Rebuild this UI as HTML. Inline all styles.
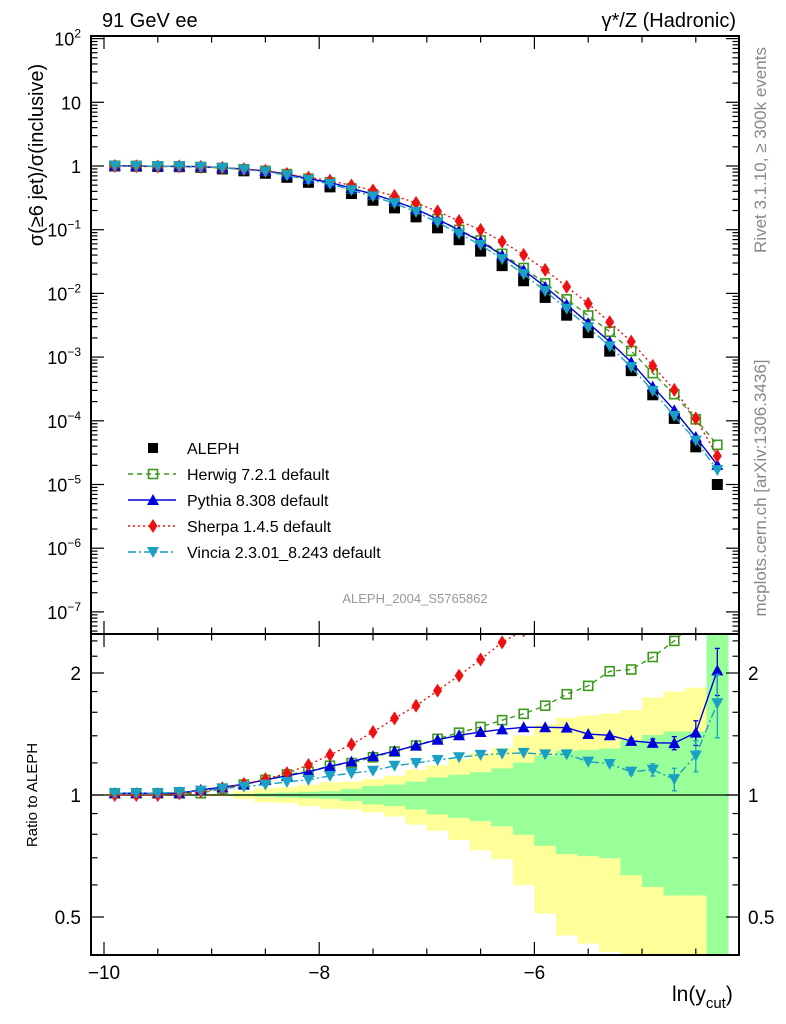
<!DOCTYPE html>
<html><head><meta charset="utf-8">
<style>
html,body{margin:0;background:#fff;overflow:hidden;width:786px;height:1024px;}
svg{display:block;font-family:"Liberation Sans",sans-serif;}
</style></head>
<body>
<svg id="chart" width="786" height="1024" viewBox="0 0 786 1024" xmlns="http://www.w3.org/2000/svg">
<text x="102" y="27" font-size="20">91 GeV ee</text>
<text x="736" y="27" font-size="20" text-anchor="end">γ*/Z (Hadronic)</text>
<text transform="translate(43,155) rotate(-90)" font-size="20" text-anchor="middle">σ(≥6 jet)/σ(inclusive)</text>
<text transform="translate(37,795) rotate(-90)" font-size="15" text-anchor="middle">Ratio to ALEPH</text>
<text transform="translate(766,150) rotate(-90)" font-size="17" fill="#888" text-anchor="middle">Rivet 3.1.10, ≥ 300k events</text>
<text transform="translate(766,488) rotate(-90)" font-size="17" fill="#888" text-anchor="middle">mcplots.cern.ch [arXiv:1306.3436]</text>
<text x="415" y="603" font-size="13" fill="#999" text-anchor="middle">ALEPH_2004_S5765862</text>
<text x="672" y="1001" font-size="21">ln(y<tspan font-size="15" dy="7">cut</tspan><tspan dy="-7">)</tspan></text>
<g id="plot"></g>
</svg>
<script>
const xs = [-9.9,-9.7,-9.5,-9.3,-9.1,-8.9,-8.7,-8.5,-8.3,-8.1,-7.9,-7.7,-7.5,-7.3,-7.1,-6.9,-6.7,-6.5,-6.3,-6.1,-5.9,-5.7,-5.5,-5.3,-5.1,-4.9,-4.7,-4.5,-4.3];
const aleph = [1.0,0.99,0.98,0.975,0.95,0.90,0.84,0.77,0.665,0.555,0.47,0.37,0.29,0.22,0.159,0.107,0.0697,0.0461,0.0273,0.0158,0.00865,0.00455,0.00242,0.00124,0.000613,0.000256,0.000109,3.9e-5,1.0e-5];
const herwigR = [1.01,1.01,1.01,1.01,1.01,1.037,1.061,1.09,1.124,1.141,1.181,1.199,1.239,1.28,1.325,1.376,1.425,1.472,1.53,1.586,1.661,1.773,1.859,2.02,2.04,2.19,2.40,2.7,4.2];
const pythiaR = [1.01,1.01,1.01,1.01,1.03,1.045,1.063,1.09,1.115,1.141,1.177,1.209,1.247,1.283,1.325,1.369,1.404,1.43,1.452,1.469,1.469,1.466,1.414,1.404,1.36,1.345,1.343,1.425,2.03];
const sherpaR = [1.0,1.0,1.0,1.01,1.02,1.037,1.065,1.094,1.132,1.186,1.256,1.333,1.43,1.545,1.661,1.81,1.97,2.16,2.38,2.55,2.7,2.8,2.85,2.85,2.85,2.85,2.8,2.8,2.8];
const vinciaR = [1.01,1.01,1.01,1.017,1.025,1.037,1.049,1.061,1.077,1.09,1.115,1.132,1.148,1.181,1.199,1.22,1.239,1.256,1.265,1.27,1.26,1.26,1.209,1.193,1.141,1.154,1.094,1.251,1.684];
const pythiaErr = [0,0,0,0,0,0,0,0,0,0,0,0,0,0,0,0,0,0,0,0,0,0,0.01,0.01,0.02,0.03,0.05,0.1,0.27];
const vinciaErr = [0,0,0,0,0,0,0,0,0,0,0,0,0,0,0,0,0,0,0,0,0,0,0.01,0.01,0.02,0.04,0.07,0.11,0.3];
const totErr = [0.003,0.003,0.004,0.005,0.006,0.008,0.022,0.04,0.045,0.06,0.075,0.079,0.094,0.115,0.155,0.184,0.226,0.269,0.306,0.401,0.49,0.55,0.57,0.59,0.62,0.74,0.80,0.84,1.0];
const statErr = [0.001,0.001,0.002,0.002,0.003,0.004,0.006,0.01,0.014,0.018,0.022,0.034,0.052,0.061,0.079,0.105,0.122,0.138,0.163,0.202,0.251,0.285,0.293,0.302,0.366,0.407,0.435,0.435,1.0];
const mainTicks = [2,1,0,-1,-2,-3,-4,-5,-6,-7];
const xTicks = [-10,-8,-6];
const ratioTicks = [0.5,1,2];

const NS="http://www.w3.org/2000/svg";
const g=document.getElementById('plot');
function el(tag,attrs,parent){const e=document.createElementNS(NS,tag);for(const k in attrs)e.setAttribute(k,attrs[k]);(parent||g).appendChild(e);return e;}
const L=91,R=739,MT=36,MB=634,RB=955;
const X=v=>104+(v+10)*107.6;
const Y=v=>166-Math.log10(v)*63.7;
const YR=r=>795-Math.log2(r)*122;

const defs=el('defs',{});
const c1=el('clipPath',{id:'cm'},defs);el('rect',{x:L,y:MT,width:R-L,height:MB-MT},c1);
const c2=el('clipPath',{id:'cr'},defs);el('rect',{x:L,y:MB,width:R-L,height:RB-MB},c2);

const bands=el('g',{'clip-path':'url(#cr)'});


xs.forEach((x,i)=>{
  const x0=X(x-0.1),x1=X(x+0.1);
  const ty=YR(1+totErr[i]), by=totErr[i]>=0.99?RB+10:YR(1-totErr[i]);
  const r1=el('rect',{x:x0,y:ty,width:x1-x0+0.5,height:by-ty,fill:'#ffff99'},bands);
  
  
  const sy=statErr[i]>=0.99?MB-10:YR(1+statErr[i]), sb=statErr[i]>=0.99?RB+10:YR(1-statErr[i]);
  const r2=el('rect',{x:x0,y:sy,width:x1-x0+0.5,height:sb-sy,fill:'#99ff99'},bands);
  
  
});
el('line',{x1:L,x2:R,y1:YR(1),y2:YR(1),stroke:'#000','stroke-width':1.2});

function marker(parent,type,cx,cy,color){
  const s=5.5;let m;
  if(type==='sq') m=el('rect',{x:cx-s,y:cy-s,width:2*s,height:2*s,fill:color},parent);
  else if(type==='osq') m=el('rect',{x:cx-4.5,y:cy-4.5,width:9,height:9,fill:'none',stroke:color,'stroke-width':1.6},parent);
  else if(type==='up') m=el('polygon',{points:`${cx},${cy-6} ${cx-6},${cy+5} ${cx+6},${cy+5}`,fill:color},parent);
  else if(type==='dn') m=el('polygon',{points:`${cx},${cy+6} ${cx-6},${cy-5} ${cx+6},${cy-5}`,fill:color},parent);
  else if(type==='dia') m=el('polygon',{points:`${cx},${cy-7} ${cx-4.5},${cy} ${cx},${cy+7} ${cx+4.5},${cy}`,fill:color},parent);
  return m;
}
const series=[
 {name:'herwig',r:herwigR,color:'#3c9a1c',dash:'5,4',m:'osq',err:null},
 {name:'pythia',r:pythiaR,color:'#0000dd',dash:'',m:'up',err:pythiaErr},
 {name:'sherpa',r:sherpaR,color:'#ee1111',dash:'2,3',m:'dia',err:null},
 {name:'vincia',r:vinciaR,color:'#1aa0c4',dash:'8,3,2,3',m:'dn',err:vinciaErr}
];

const mainG=el('g',{'clip-path':'url(#cm)'});


xs.forEach((x,i)=>{
  const m=marker(mainG,'sq',X(x),Y(aleph[i]),'#000');
  
  
});
series.forEach(s=>{
  const pts=xs.map((x,i)=>X(x)+','+Y(aleph[i]*s.r[i])).join(' ');
  const pl=el('polyline',{points:pts,fill:'none',stroke:s.color,'stroke-width':1.4,'stroke-dasharray':s.dash},mainG);
  
  
  xs.forEach((x,i)=>{
    const m=marker(mainG,s.m,X(x),Y(aleph[i]*s.r[i]),s.color);
    
    
  });
});

const ratG=el('g',{'clip-path':'url(#cr)'});


series.forEach(s=>{
  const pts=xs.map((x,i)=>X(x)+','+YR(s.r[i])).join(' ');
  const pl=el('polyline',{points:pts,fill:'none',stroke:s.color,'stroke-width':1.4,'stroke-dasharray':s.dash},ratG);
  
  
  xs.forEach((x,i)=>{
    if(s.err&&s.err[i]>0){
      const cx=X(x),y1=YR(s.r[i]+s.err[i]),y2=YR(s.r[i]-s.err[i]);
      el('line',{x1:cx,x2:cx,y1:y1,y2:y2,stroke:s.color,'stroke-width':1.3},ratG);
      el('line',{x1:cx-2.5,x2:cx+2.5,y1:y1,y2:y1,stroke:s.color,'stroke-width':1.3},ratG);
      el('line',{x1:cx-2.5,x2:cx+2.5,y1:y2,y2:y2,stroke:s.color,'stroke-width':1.3},ratG);
    }
    const m=marker(ratG,s.m,X(x),YR(s.r[i]),s.color);
    
    
  });
});

el('rect',{x:L,y:MT,width:R-L,height:MB-MT,fill:'none',stroke:'#000','stroke-width':2});
el('rect',{x:L,y:MB,width:R-L,height:RB-MB,fill:'none',stroke:'#000','stroke-width':2});

const tk=el('g',{stroke:'#000','stroke-width':1.2});
for(let d=-8;d<=2;d++){
  for(let k=1;k<=9;k++){
    const v=k*Math.pow(10,d),y=Y(v);
    if(y<MT||y>MB)continue;
    const len=k===1?13:6.5;
    el('line',{x1:L,x2:L+len,y1:y,y2:y},tk);
    el('line',{x1:R,x2:R-len,y1:y,y2:y},tk);
  }
}
mainTicks.forEach(d=>{
  const y=Y(Math.pow(10,d))+7;
  let t;
  if(d===0){t=el('text',{x:81,y:y,'font-size':18,'text-anchor':'end'});t.textContent='1';}
  else if(d===1){t=el('text',{x:81,y:y,'font-size':18,'text-anchor':'end'});t.textContent='10';}
  else{
    t=el('text',{x:81,y:y,'font-size':18,'text-anchor':'end'});
    const a=el('tspan',{},t);a.textContent='10';
    const b=el('tspan',{dy:-8,'font-size':12},t);b.textContent=(d<0?'−':'')+Math.abs(d);
  }
  
  
});
[0.4,0.5,0.6,0.7,0.8,0.9,1,1.2,1.4,1.6,1.8,2,2.2,2.4].forEach(r=>{
  const y=YR(r);if(y<MB||y>RB)return;
  const len=(r===0.5||r===1||r===2)?13:6.5;
  el('line',{x1:L,x2:L+len,y1:y,y2:y},tk);
  el('line',{x1:R,x2:R-len,y1:y,y2:y},tk);
});
ratioTicks.forEach(r=>{
  const y=YR(r)+7;
  const t=el('text',{x:81,y:y,'font-size':19,'text-anchor':'end'});t.textContent=String(r);
  
  
  const t2=el('text',{x:748,y:y,'font-size':19});t2.textContent=String(r);
  
  
});
for(let v=-10;v<=-4.1;v+=0.5){
  const x=X(v),major=Math.abs(v-Math.round(v))<1e-6&&Math.round(v)%2===0,len=major?13:6.5;
  [MT,MB].forEach(y0=>el('line',{x1:x,x2:x,y1:y0,y2:y0+len},tk));
  [MB,RB].forEach(y0=>el('line',{x1:x,x2:x,y1:y0,y2:y0-len},tk));
}
xTicks.forEach(v=>{
  const t=el('text',{x:X(v),y:979,'font-size':19,'text-anchor':'middle'});t.textContent='−'+Math.abs(v);
  
  
});

const leg=el('g',{});


const legItems=[['ALEPH',null,448],['Herwig 7.2.1 default',0,474],['Pythia 8.308 default',1,500],['Sherpa 1.4.5 default',2,526],['Vincia 2.3.01_8.243 default',3,552]];
legItems.forEach(([lab,si,y])=>{
  const e=el('g',{},leg);
  
  
  if(si===null){el('rect',{x:148,y:y-5,width:10,height:10,fill:'#000'},e);}
  else{const s=series[si];
    el('line',{x1:128,x2:176,y1:y,y2:y,stroke:s.color,'stroke-width':1.4,'stroke-dasharray':s.dash},e);
    marker(e,s.m,153,y,s.color);}
  const t=el('text',{x:187,y:y+6,'font-size':16},e);t.textContent=lab;
});
</script>
</body></html>
